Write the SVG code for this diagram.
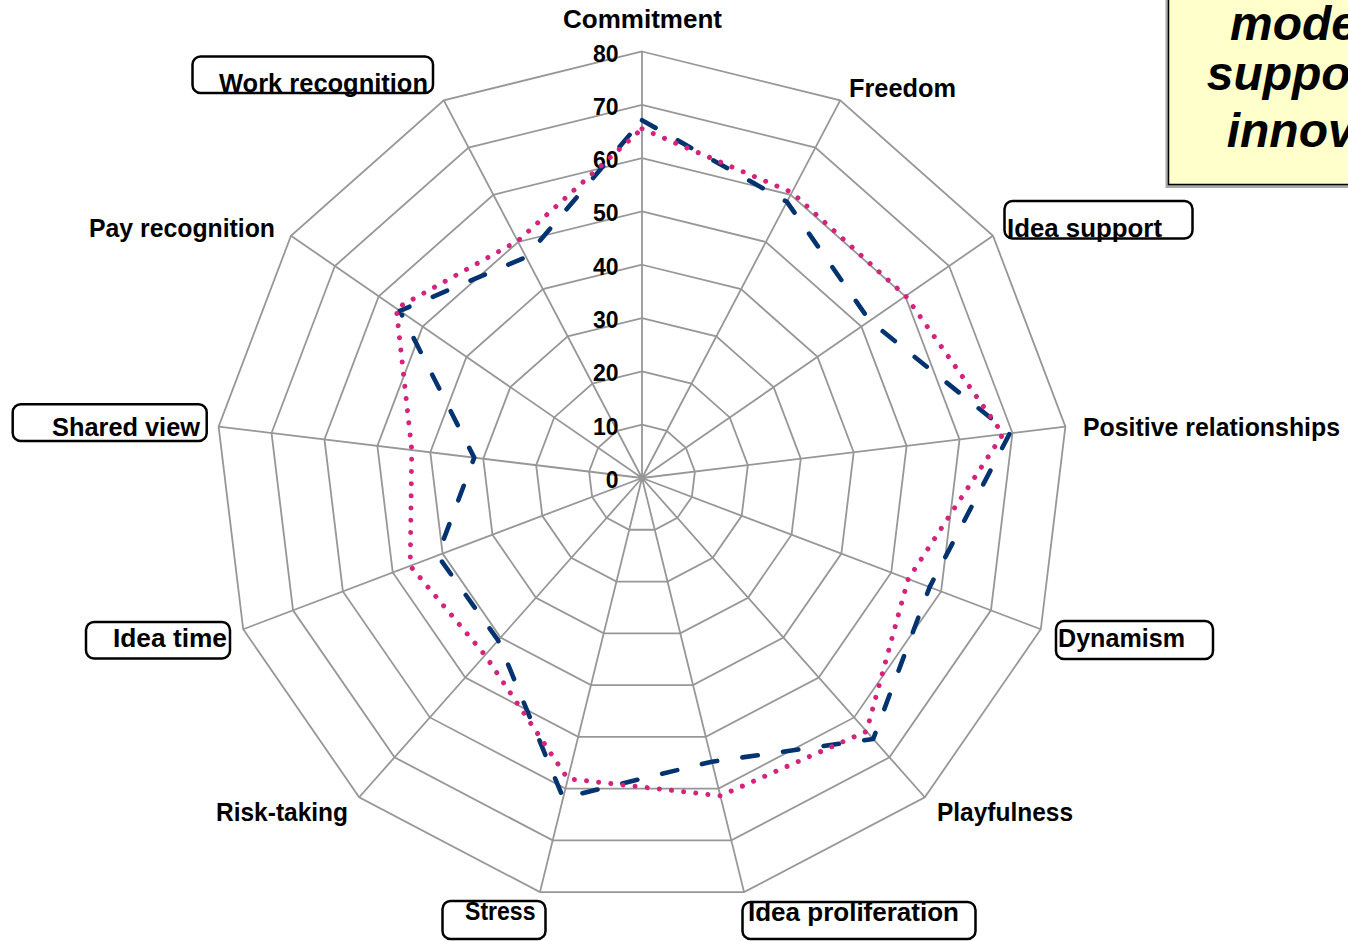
<svg xmlns="http://www.w3.org/2000/svg" xmlns:xlink="http://www.w3.org/1999/xlink" width="1348" height="941" viewBox="0 0 1348 941">
  <style>
    .grid { fill: none; stroke: #979797; stroke-linejoin: miter; }
    .spoke { fill: none; stroke: #979797; stroke-width: 1.8; }
    .lbl { font-family: "Liberation Sans", Arial, sans-serif; font-weight: bold; font-size: 25px; fill: #000; }
    .num { font-family: "Liberation Sans", Arial, sans-serif; font-weight: bold; font-size: 23px; fill: #000; text-anchor: end; }
    .tag { fill: none; stroke: #000; stroke-width: 2.5; }
    .s1 { fill: none; stroke: #00336f; stroke-width: 4.6; stroke-dasharray: 15.5 25.5; stroke-linecap: round; stroke-linejoin: round; }
    .s2 { fill: none; stroke: #d4237a; stroke-width: 5; stroke-dasharray: 0.01 12.2; stroke-linecap: round; stroke-linejoin: round; }
    .note { font-family: "Liberation Sans", Arial, sans-serif; font-weight: bold; font-style: italic; font-size: 48px; fill: #000; }
  </style>
  <defs>
    <!-- 13-sided ring at full radius (value 80), centred on the origin -->
    <polygon id="ring" class="grid" points="0,-426.5 198.2,-377.65 351,-242.28 423.39,-51.41 398.79,151.24 282.82,319.24 102.07,414.11 -102.07,414.11 -282.82,319.24 -398.79,151.24 -423.39,-51.41 -351,-242.28 -198.2,-377.65"/>
  </defs>
  <rect width="1348" height="941" fill="#fff"/>

  <!-- radar grid: rings every 10 units plus spokes -->
  <g id="grid" transform="translate(642 478)">
    <use xlink:href="#ring" href="#ring" transform="scale(0.125)" stroke-width="14.4"/>
    <use xlink:href="#ring" href="#ring" transform="scale(0.25)" stroke-width="7.2"/>
    <use xlink:href="#ring" href="#ring" transform="scale(0.375)" stroke-width="4.8"/>
    <use xlink:href="#ring" href="#ring" transform="scale(0.5)" stroke-width="3.6"/>
    <use xlink:href="#ring" href="#ring" transform="scale(0.625)" stroke-width="2.88"/>
    <use xlink:href="#ring" href="#ring" transform="scale(0.75)" stroke-width="2.4"/>
    <use xlink:href="#ring" href="#ring" transform="scale(0.875)" stroke-width="2.0571"/>
    <use xlink:href="#ring" href="#ring" stroke-width="1.8"/>
    <path class="spoke" d="M0,0 L0,-426.5 M0,0 L198.2,-377.65 M0,0 L351,-242.28 M0,0 L423.39,-51.41 M0,0 L398.79,151.24 M0,0 L282.82,319.24 M0,0 L102.07,414.11 M0,0 L-102.07,414.11 M0,0 L-282.82,319.24 M0,0 L-398.79,151.24 M0,0 L-423.39,-51.41 M0,0 L-351,-242.28 M0,0 L-198.2,-377.65"/>
  </g>

  <!-- scale values on the top axis -->
  <g id="scale">
    <text class="num" x="618.5" y="61.5">80</text>
    <text class="num" x="618.5" y="114.8">70</text>
    <text class="num" x="618.5" y="168.1">60</text>
    <text class="num" x="618.5" y="221.4">50</text>
    <text class="num" x="618.5" y="274.8">40</text>
    <text class="num" x="618.5" y="328.1">30</text>
    <text class="num" x="618.5" y="381.4">20</text>
    <text class="num" x="618.5" y="434.7">10</text>
    <text class="num" x="618.5" y="488">0</text>
  </g>

  <!-- data series -->
  <g id="series">
    <polygon class="s1" points="642,120.27 786.94,201.84 869.71,320.82 1009.82,433.34 929.62,587.08 873.2,738.98 711.92,761.66 563.15,797.9 498.12,640.41 437.62,555.51 474.23,457.63 399.81,310.83 526.05,257.08"/>
    <polygon class="s2" points="642,128.8 791.89,192.4 905.69,295.99 1002.94,434.17 908.19,578.95 866.48,731.39 720.34,795.83 567.87,778.75 485.03,655.18 410.21,565.91 411.78,450.05 396.3,308.41 517.63,241.02"/>
  </g>

  <!-- axis labels -->
  <g id="axis-commitment"><text class="lbl" x="563" y="28" textLength="159" lengthAdjust="spacingAndGlyphs">Commitment</text></g>
  <g id="axis-freedom"><text class="lbl" x="849" y="97" textLength="107" lengthAdjust="spacingAndGlyphs">Freedom</text></g>
  <g id="axis-idea-support">
    <rect class="tag" x="1004.5" y="201" width="188" height="37.5" rx="8"/>
    <text class="lbl" x="1007" y="236.5" textLength="155" lengthAdjust="spacingAndGlyphs">Idea support</text>
  </g>
  <g id="axis-positive-relationships"><text class="lbl" x="1083" y="436" textLength="257" lengthAdjust="spacingAndGlyphs">Positive relationships</text></g>
  <g id="axis-dynamism">
    <rect class="tag" x="1056" y="621" width="157" height="38" rx="8"/>
    <text class="lbl" x="1058" y="647" textLength="127" lengthAdjust="spacingAndGlyphs">Dynamism</text>
  </g>
  <g id="axis-playfulness"><text class="lbl" x="937" y="821" textLength="136" lengthAdjust="spacingAndGlyphs">Playfulness</text></g>
  <g id="axis-idea-proliferation">
    <rect class="tag" x="742.5" y="902" width="233" height="37" rx="8"/>
    <text class="lbl" x="748" y="921" textLength="211" lengthAdjust="spacingAndGlyphs">Idea proliferation</text>
  </g>
  <g id="axis-stress">
    <rect class="tag" x="442.5" y="901" width="103" height="38" rx="8"/>
    <text class="lbl" x="465" y="920" textLength="70.5" lengthAdjust="spacingAndGlyphs">Stress</text>
  </g>
  <g id="axis-risk-taking"><text class="lbl" x="216" y="821" textLength="132" lengthAdjust="spacingAndGlyphs">Risk-taking</text></g>
  <g id="axis-idea-time">
    <rect class="tag" x="86" y="622" width="144" height="36.5" rx="8"/>
    <text class="lbl" x="113" y="647" textLength="114" lengthAdjust="spacingAndGlyphs">Idea time</text>
  </g>
  <g id="axis-shared-view">
    <rect class="tag" x="12.7" y="404.3" width="194" height="36.7" rx="8"/>
    <text class="lbl" x="52" y="436" textLength="148" lengthAdjust="spacingAndGlyphs">Shared view</text>
  </g>
  <g id="axis-pay-recognition"><text class="lbl" x="89" y="237" textLength="186" lengthAdjust="spacingAndGlyphs">Pay recognition</text></g>
  <g id="axis-work-recognition">
    <rect class="tag" x="192.5" y="56.5" width="240.5" height="36.5" rx="8"/>
    <text class="lbl" x="219" y="92" textLength="209" lengthAdjust="spacingAndGlyphs">Work recognition</text>
  </g>

  <!-- caption box in the top-right corner -->
  <g id="caption">
    <rect x="1165.5" y="-5" width="200" height="193" fill="#a8a8a8"/>
    <rect x="1168.5" y="-5" width="200" height="189.5" fill="#ffffcc" stroke="#000" stroke-width="1.5"/>
    <text class="note" x="1230" y="40">mode</text>
    <text class="note" x="1206.7" y="90">suppo</text>
    <text class="note" x="1226.7" y="146.7">innov</text>
  </g>
</svg>
